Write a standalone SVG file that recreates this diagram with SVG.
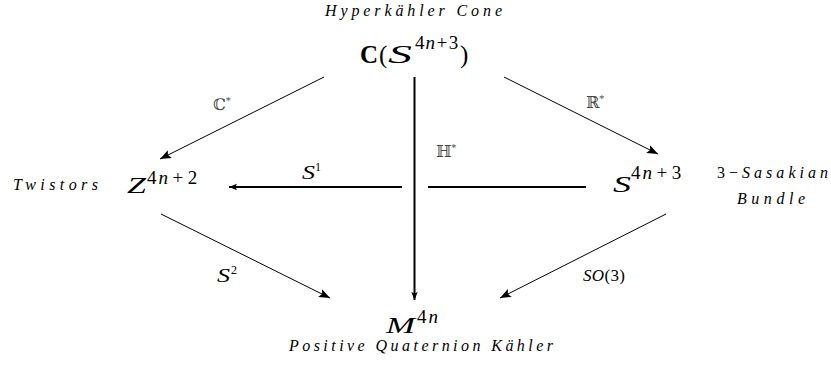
<svg xmlns="http://www.w3.org/2000/svg" width="831" height="373" viewBox="0 0 831 373">
<defs>
<style>
.it{font-family:"Liberation Serif",serif;font-style:italic;font-size:16px;fill:#000}
.m{font-family:"Liberation Serif",serif;font-style:italic;fill:#000}
.r{font-family:"Liberation Serif",serif;fill:#000}
.sup{font-family:"Liberation Serif",serif;font-size:19px;fill:#000}
.bb{font-family:"DejaVu Serif",serif;font-size:16px;fill:#444}
.thin{stroke:#000;stroke-width:1;fill:none}
.thick{stroke:#000;stroke-width:2;fill:none}
</style>
<marker id="ah" viewBox="0 0 10 10" refX="10" refY="5" markerWidth="11" markerHeight="11" markerUnits="userSpaceOnUse" orient="auto">
<path d="M0,1 L10,5 L0,9 L2,5 Z" fill="#000"/>
</marker>
<marker id="ah2" viewBox="0 0 10 10" refX="10" refY="5" markerWidth="8" markerHeight="8" markerUnits="userSpaceOnUse" orient="auto">
<path d="M0,1 L10,5 L0,9 L2,5 Z" fill="#000"/>
</marker>
</defs>
<g id="connectors">
<line class="thin" x1="324" y1="77" x2="160" y2="159" marker-end="url(#ah)"/>
<line class="thin" x1="504" y1="77" x2="658" y2="154" marker-end="url(#ah)"/>
<line class="thin" x1="161" y1="214" x2="330" y2="298" marker-end="url(#ah)"/>
<line class="thin" x1="666" y1="214" x2="500" y2="298" marker-end="url(#ah)"/>
<line class="thick" x1="414.5" y1="77" x2="414.5" y2="300" marker-end="url(#ah2)"/>
<line class="thick" x1="402" y1="187" x2="229" y2="187" marker-end="url(#ah2)"/>
<line class="thick" x1="428" y1="187" x2="586" y2="187"/>
<text class="bb" x="213" y="110">ℂ<tspan font-size="10" dy="-6">*</tspan></text>
<text class="bb" x="586" y="108">ℝ<tspan font-size="10" dy="-6">*</tspan></text>
<text class="bb" x="436" y="157">ℍ<tspan font-size="10" dy="-6">*</tspan></text>
<text class="m" font-size="19" x="302" y="179" textLength="13" lengthAdjust="spacingAndGlyphs">S</text>
<text class="r" font-size="12" x="315" y="171">1</text>
<text class="m" font-size="18" x="217" y="282" textLength="13" lengthAdjust="spacingAndGlyphs">S</text>
<text class="r" font-size="12" x="231" y="274">2</text>
<text class="m" font-size="17" x="583" y="281" textLength="42" lengthAdjust="spacing">SO<tspan font-style="normal">(3)</tspan></text>
</g>
<g id="cone">
<text class="it" x="325" y="16" textLength="177" lengthAdjust="spacing">Hyperkähler Cone</text>
<text class="r" font-size="25" font-weight="bold" x="360" y="63">C</text>
<text class="r" font-size="25" x="379" y="63">(</text>
<text class="m" font-size="26" x="388" y="63" textLength="24" lengthAdjust="spacingAndGlyphs">S</text>
<text class="sup" font-size="18" x="415" y="49">4<tspan font-style="italic" dx="1">n</tspan><tspan dx="1.5">+</tspan><tspan dx="1.5">3</tspan></text>
<text class="r" font-size="25" x="460" y="63">)</text>
</g>
<g id="twistors">
<text class="it" x="13" y="190" textLength="85" lengthAdjust="spacing">Twistors</text>
<text class="m" font-size="24" x="127" y="193" textLength="19" lengthAdjust="spacingAndGlyphs">Z</text>
<text class="sup" x="147" y="184">4<tspan font-style="italic" dx="2">n</tspan><tspan dx="4.5">+</tspan><tspan dx="4.5">2</tspan></text>
</g>
<g id="sasakian">
<text class="m" font-size="24" x="613" y="192" textLength="18" lengthAdjust="spacingAndGlyphs">S</text>
<text class="sup" x="631" y="179">4<tspan font-style="italic" dx="2">n</tspan><tspan dx="4.5">+</tspan><tspan dx="4.5">3</tspan></text>
<text class="it" x="717" y="178" textLength="111" lengthAdjust="spacing"><tspan font-style="normal">3−</tspan>Sasakian</text>
<text class="it" x="737" y="204" textLength="68" lengthAdjust="spacing">Bundle</text>
</g>
<g id="quaternion">
<text class="m" font-size="24" x="386" y="333" textLength="29" lengthAdjust="spacingAndGlyphs">M</text>
<text class="sup" x="417" y="323">4<tspan font-style="italic" dx="2">n</tspan></text>
<text class="it" x="289" y="351" textLength="264" lengthAdjust="spacing">Positive Quaternion Kähler</text>
</g>
</svg>
